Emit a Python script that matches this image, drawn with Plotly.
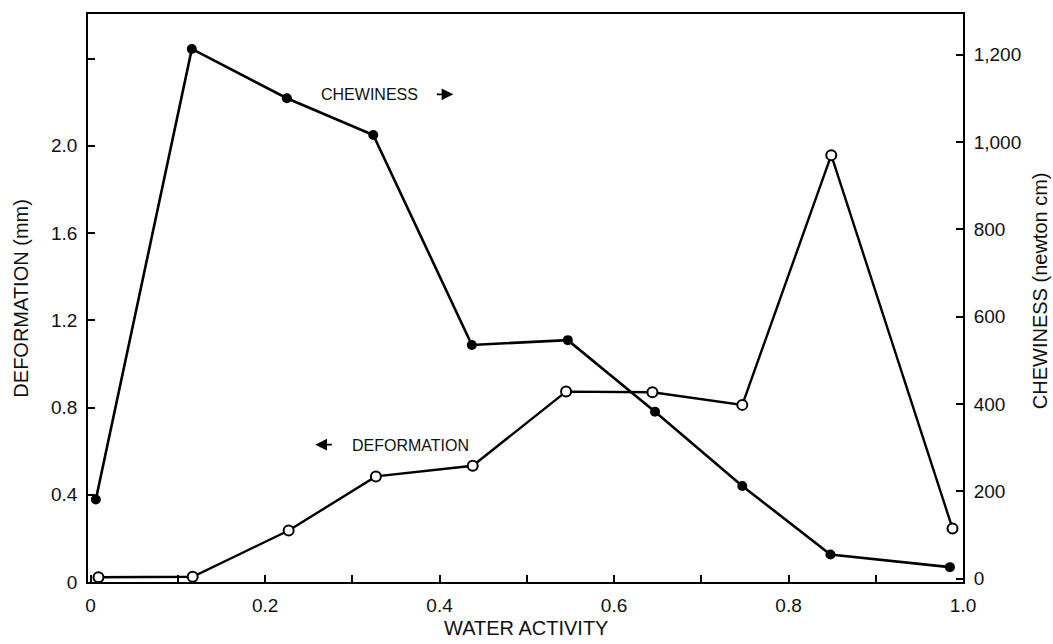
import plotly.graph_objects as go

# Data
water_activity_chew = [0.006, 0.116, 0.225, 0.324, 0.437, 0.547, 0.647, 0.747, 0.848, 0.985]
chewiness = [181, 1213, 1100, 1016, 535, 546, 382, 212, 55, 26]

water_activity_def = [0.009, 0.117, 0.227, 0.327, 0.438, 0.545, 0.644, 0.747, 0.849, 0.988]
deformation = [0.022, 0.024, 0.236, 0.484, 0.533, 0.873, 0.870, 0.812, 1.957, 0.245]

x_tickvals = [0, 0.1, 0.2, 0.3, 0.4, 0.5, 0.6, 0.7, 0.8, 0.9, 1.0]
x_ticktext = ["0", "", "0.2", "", "0.4", "", "0.6", "", "0.8", "", "1.0"]
y_tickvals = [0, 0.4, 0.8, 1.2, 1.6, 2.0, 2.4]
y_ticktext = ["0", "0.4", "0.8", "1.2", "1.6", "2.0", ""]
y2_tickvals = [0, 200, 400, 600, 800, 1000, 1200]
y2_ticktext = ["0", "200", "400", "600", "800", "1,000", "1,200"]

FONT = "Liberation Sans, Arial, Helvetica, sans-serif"

fig = go.Figure()
fig.add_trace(go.Scatter(
    x=water_activity_chew, y=chewiness, yaxis="y2", mode="lines+markers",
    line=dict(color="black", width=2.6),
    marker=dict(symbol="circle", size=10, color="black"),
    showlegend=False, cliponaxis=False))
fig.add_trace(go.Scatter(
    x=water_activity_def, y=deformation, yaxis="y", mode="lines+markers",
    line=dict(color="black", width=2.4),
    marker=dict(symbol="circle", size=10, color="white", line=dict(color="black", width=2)),
    showlegend=False, cliponaxis=False))

axis_common = dict(showgrid=False, zeroline=False, showline=True, linecolor="black",
                   linewidth=1.8, ticks="inside", ticklen=7, tickwidth=1.6,
                   tickcolor="black", ticklabelstandoff=5,
                   tickfont=dict(family=FONT, size=19, color="#111"))

fig.update_layout(
    width=1053, height=644,
    margin=dict(l=87.5, r=90, t=13.5, b=61.5),
    paper_bgcolor="white", plot_bgcolor="white",
    font=dict(family=FONT, color="#111"),
    xaxis=dict(range=[-0.003, 1.0], tickmode="array", tickvals=x_tickvals,
               ticktext=x_ticktext, mirror=True, **axis_common),
    yaxis=dict(range=[0, 2.604], tickmode="array", tickvals=y_tickvals,
               ticktext=y_ticktext, **axis_common),
    yaxis2=dict(range=[-8, 1293], tickmode="array", tickvals=y2_tickvals,
                ticktext=y2_ticktext, overlaying="y", side="right", **axis_common),
)

annos = [
    dict(text="WATER ACTIVITY", x=0.5, y=-0.081, xref="paper", yref="paper",
         showarrow=False, font=dict(size=20), xanchor="center", yanchor="middle"),
    dict(text="DEFORMATION (mm)", x=-0.077, y=0.5, xref="paper", yref="paper",
         showarrow=False, font=dict(size=20), textangle=-90, xanchor="center", yanchor="middle"),
    dict(text="CHEWINESS (newton cm)", x=1.088, y=0.512, xref="paper", yref="paper",
         showarrow=False, font=dict(size=20), textangle=-90, xanchor="center", yanchor="middle"),
    dict(text="CHEWINESS", x=0.322, y=0.8585, xref="paper", yref="paper",
         showarrow=False, font=dict(size=16), xanchor="center", yanchor="middle"),
    dict(text="DEFORMATION", x=0.3685, y=0.240, xref="paper", yref="paper",
         showarrow=False, font=dict(size=16), xanchor="center", yanchor="middle"),
    dict(text="", x=0.4175, y=0.8585, xref="paper", yref="paper", showarrow=True,
         ax=-18, ay=0, arrowhead=2, arrowsize=1.3, arrowwidth=1.8, arrowcolor="black"),
    dict(text="", x=0.2598, y=0.2417, xref="paper", yref="paper", showarrow=True,
         ax=18, ay=0, arrowhead=2, arrowsize=1.3, arrowwidth=1.8, arrowcolor="black"),
]
fig.update_layout(annotations=annos)

fig.write_html("out.html")
